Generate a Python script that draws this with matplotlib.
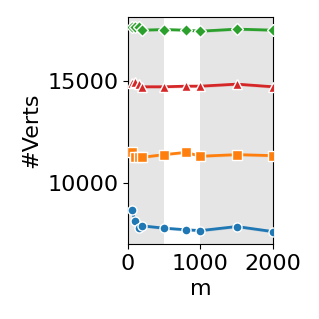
import numpy as np
import matplotlib
matplotlib.use("Agg")
import matplotlib.pyplot as plt

m_vals = [50, 100, 150, 200, 500, 800, 1000, 1500, 2000]
verts_blue = [8680, 8140, 7780, 7890, 7780, 7700, 7660, 7860, 7610]
verts_orange = [11500, 11290, 11260, 11260, 11390, 11500, 11310, 11390, 11340]
verts_red = [14890, 14970, 14850, 14720, 14720, 14750, 14750, 14850, 14720]
verts_green = [17660, 17660, 17630, 17500, 17530, 17500, 17450, 17550, 17500]

series = [
    (verts_blue, "#1f77b4", "o", 6.5),
    (verts_orange, "#ff7f0e", "s", 6.5),
    (verts_red, "#d62728", "^", 7),
    (verts_green, "#2ca02c", "D", 6.5),
]
shaded = [(0, 500), (1000, 2000)]

fig = plt.figure(figsize=(3.19, 3.19), dpi=100)
ax = fig.add_axes([0.401, 0.235, 0.455, 0.712])

for lo, hi in shaded:
    ax.axvspan(lo, hi, color="#e5e5e5", zorder=0, lw=0)

for ys, col, mk, ms in series:
    ys = np.array(ys)
    ax.fill_between(m_vals, ys - 70, ys + 70, color=col, alpha=0.2, lw=0, zorder=1)
    ax.plot(m_vals, ys, color=col, lw=2, marker=mk, markersize=ms,
            markeredgecolor="white", markeredgewidth=1, zorder=3)

ax.set_xlim(0, 2000)
ax.set_ylim(7000, 18150)
ax.set_xticks([0, 1000, 2000])
ax.set_yticks([10000, 15000])
ax.tick_params(labelsize=16)
ax.set_xlabel("m", fontsize=16)
ax.set_ylabel("#Verts", fontsize=16)

fig.savefig("out.png", dpi=100)
